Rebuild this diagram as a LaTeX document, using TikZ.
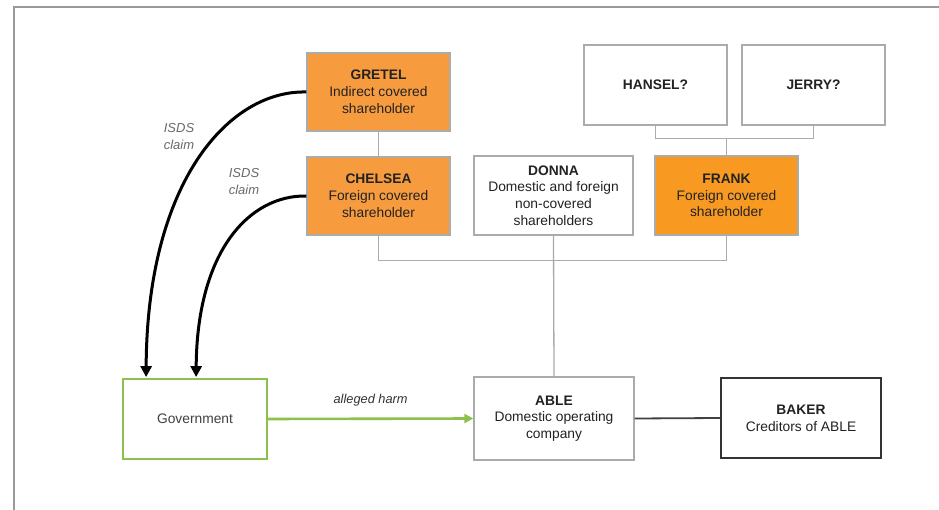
\documentclass[tikz,border=0pt]{standalone}
\usepackage{fontspec}
\setmainfont{Liberation Sans}
\usetikzlibrary{arrows.meta,calc}
\definecolor{orangeA}{HTML}{F79B3F}
\definecolor{orangeB}{HTML}{F89A22}
\definecolor{boxgray}{HTML}{ABABAB}
\definecolor{txtdark}{HTML}{222222}
\definecolor{govgreen}{HTML}{8CC14A}
\definecolor{lblgray}{HTML}{6A6A6A}
\tikzset{
  box/.style={draw=boxgray, line width=1.4pt, rectangle, align=center,
    text=txtdark, inner sep=0pt,
    font=\fontsize{13.8}{16.8}\selectfont},
  orangebox/.style={box, fill=orangeA},
  orangeboxb/.style={box, fill=orangeB},
  link/.style={draw=boxgray, line width=1.3pt},
  claim/.style={line width=3pt, black, -{Triangle[width=11pt,length=11pt]}},
  claimlbl/.style={text=lblgray, align=center, font=\fontsize{13}{17}\selectfont\itshape},
}
\begin{document}
\begin{tikzpicture}[x=1pt,y=-1pt]
\useasboundingbox (0,0) rectangle (939,510);
\fill[white] (0,0) rectangle (939,510);
% frame
\draw[draw=gray!80, line width=1.8pt] (14,512) -- (14,7) -- (941,7);

\node[orangebox, minimum width=143pt, minimum height=78pt] (GRETEL) at (378.5,92)
  {\textbf{GRETEL}\\Indirect covered\\shareholder};
\node[orangebox, minimum width=143pt, minimum height=78pt] (CHELSEA) at (378.5,196)
  {\textbf{CHELSEA}\\Foreign covered\\shareholder};
\node[box, minimum width=159pt, minimum height=79pt] (DONNA) at (553.5,195.5)
  {\textbf{DONNA}\\Domestic and foreign\\non-covered\\shareholders};
\node[orangeboxb, minimum width=143pt, minimum height=79pt] (FRANK) at (726.5,195.5)
  {\textbf{FRANK}\\Foreign covered\\shareholder};
\node[box, minimum width=143pt, minimum height=80pt] (HANSEL) at (655.5,85)
  {\textbf{HANSEL?}};
\node[box, minimum width=143pt, minimum height=80pt] (JERRY) at (813.5,85)
  {\textbf{JERRY?}};
\node[box, draw=govgreen, line width=1.8pt, text=black!75, minimum width=144pt, minimum height=80pt] (GOV) at (195,419)
  {Government};
\node[box, minimum width=160pt, minimum height=83pt] (ABLE) at (554,418.5)
  {\textbf{ABLE}\\Domestic operating\\company};
\node[box, draw=black!80, line width=2pt, minimum width=160pt, minimum height=80pt] (BAKER) at (801,418)
  {\textbf{BAKER}\\Creditors of ABLE};

% connectors
\draw[link] (GRETEL.south) -- (CHELSEA.north);
\coordinate (hjbar) at ($(FRANK.north)+(0,-17)$);
\draw[link] (HANSEL.south) |- (hjbar) -| (JERRY.south);
\draw[link] (FRANK.north) -- (hjbar);
\coordinate (sbar) at ($(DONNA.south)+(0,25)$);
\draw[link] (CHELSEA.south) |- (sbar) -| (FRANK.south);
\draw[link] (DONNA.south) -- (ABLE.north);
\draw[draw=black!75, line width=1.8pt] (ABLE.east) -- (BAKER.west);
\draw[draw=govgreen, line width=2.6pt, -{Triangle[width=9pt,length=9pt]}] (GOV.east) -- (ABLE.west)
  node[midway, above=8pt, text=black!80, font=\fontsize{12.8}{15}\selectfont\itshape] (harm) {alleged harm};

% ISDS claims
\coordinate (g1) at ($(GOV.north west)+(24,-1)$);
\coordinate (g2) at ($(GOV.north west)+(74,-1)$);
\draw[claim] (GRETEL.west) .. controls (230,90) and (147,180) .. (g1);
\draw[claim] (CHELSEA.west) .. controls (250,195) and (197,250) .. (g2);
\node[claimlbl] (isds1) at (179,137) {ISDS\\claim};
\node[claimlbl] (isds2) at (244,182) {ISDS\\claim};
\end{tikzpicture}
\end{document}
